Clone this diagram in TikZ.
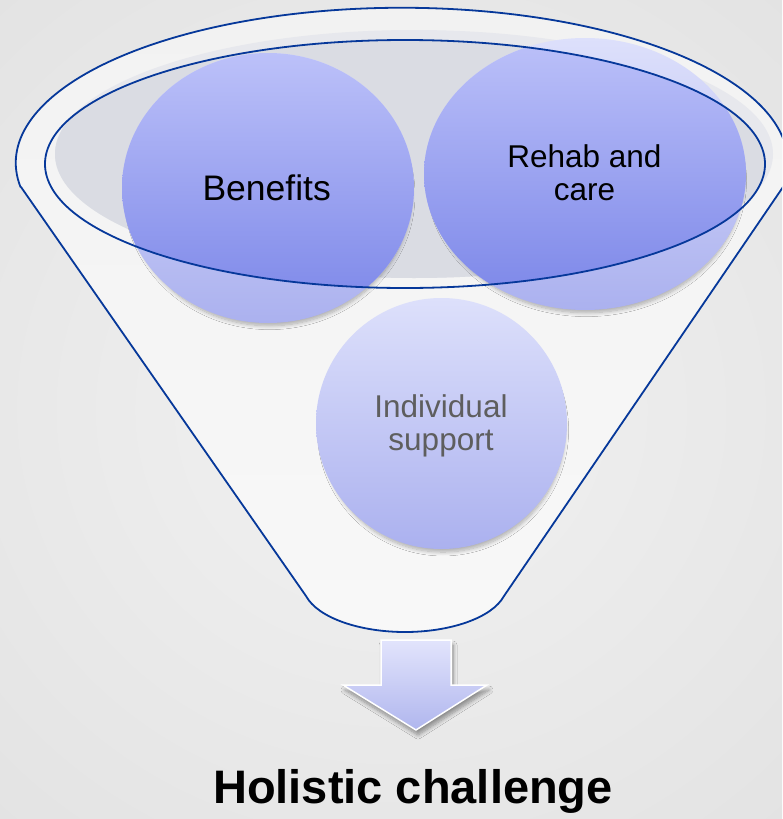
\documentclass[tikz,border=0pt]{standalone}
\usepackage{fontspec}
\setmainfont{Liberation Sans}
\usetikzlibrary{shadows.blur}
\definecolor{rim}{HTML}{06389A}
\definecolor{bgin}{HTML}{F2F2F2}
\definecolor{bgout}{HTML}{E3E3E3}
\definecolor{funtop}{HTML}{F2F2F2}
\definecolor{funbot}{HTML}{F8F8F8}
\definecolor{greyout}{HTML}{E7E8ED}
\definecolor{greyin}{HTML}{DADCE3}
\definecolor{lighttop}{HTML}{DDE0FB}
\definecolor{lightbot}{HTML}{ABB1EF}
\definecolor{darktop}{HTML}{BCC1F9}
\definecolor{darkbot}{HTML}{7A85E8}
\definecolor{arrtop}{HTML}{E2E4FC}
\definecolor{arrbot}{HTML}{B0B6EE}
\definecolor{greytext}{HTML}{5E5E5E}
\tikzset{
  rimline/.style={draw=rim, line width=1.8pt},
  lightball/.style={top color=lighttop, bottom color=lightbot,
    blur shadow={shadow xshift=1.5pt, shadow yshift=-7pt, shadow scale=0.97, shadow blur steps=10, shadow blur radius=4pt, shadow opacity=30}},
  darkball/.style={top color=darktop, bottom color=darkbot},
  lbl/.style={inner sep=0pt, align=center},
}
\begin{document}
\begin{tikzpicture}[x=1pt,y=-1pt]
\useasboundingbox (0,0) rectangle (782,819);
\begin{scope}
\clip (0,0) rectangle (782,819);
% background
\shade[inner color=bgin, outer color=bgout] (-200,-150) rectangle (982,969);
% funnel body
\path[top color=funtop, bottom color=funbot]
  (21,187) -- (306,596) .. controls (318,618) and (360,632) .. (405,632)
  .. controls (450,632) and (492,618) .. (504,596) -- (783,187)
  arc[start angle=9, end angle=-189, x radius=386, y radius=155] -- cycle;
% inner grey
\fill[greyout] (414,154) ellipse[x radius=359, y radius=124];
\begin{scope}
  \clip (405,164) ellipse[x radius=360, y radius=124];
  \fill[greyin] (414,154) ellipse[x radius=359, y radius=124];
\end{scope}
% circles, light layer
\path[lightball] (268,188) ellipse[x radius=146, y radius=135];
\path[lightball] (585,174) ellipse[x radius=161, y radius=136];
% circles, dark layer inside mouth
\begin{scope}
  \clip (405,164) ellipse[x radius=360, y radius=124];
  \path[darkball] (268,188) ellipse[x radius=146, y radius=135];
  \path[darkball] (585,174) ellipse[x radius=161, y radius=136];
\end{scope}
% outlines
\draw[rimline] (405,164) ellipse[x radius=360, y radius=124];
\draw[rimline, line join=round]
  (21,187) -- (306,596) .. controls (318,618) and (360,632) .. (405,632)
  .. controls (450,632) and (492,618) .. (504,596) -- (783,187)
  arc[start angle=9, end angle=-189, x radius=386, y radius=155] -- cycle;
% third circle
\path[lightball] (441.5,423.5) circle[radius=125.5];
\end{scope}
% labels
\node[lbl, anchor=base, font=\fontsize{35.5}{40}\selectfont] (benefits) at (266.7,200) {Benefits};
\node[lbl, anchor=base, font=\fontsize{31.5}{33}\selectfont] (rehab) at (584.5,200) {Rehab and\\care};
\node[lbl, anchor=base, text=greytext, font=\fontsize{31.5}{33}\selectfont] (indiv) at (441,450) {Individual\\support};
% arrow
\path[top color=arrtop, bottom color=arrbot, draw=white, line width=1.5pt, line join=miter,
  blur shadow={shadow xshift=2pt, shadow yshift=-5pt, shadow blur steps=8, shadow blur radius=4pt, shadow opacity=40}]
  (381,640) -- (451,640) -- (451,685) -- (487,685) -- (416,730) -- (343,685) -- (381,685) -- cycle;
\node[lbl, anchor=base, font=\fontsize{47}{50}\bfseries\selectfont] (holistic) at (413,803) {Holistic challenge};
\end{tikzpicture}
\end{document}
